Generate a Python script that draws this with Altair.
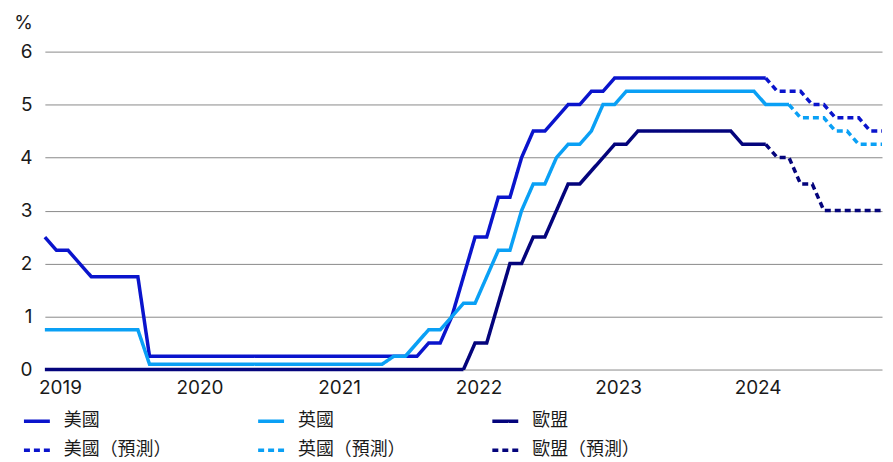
import altair as alt
import pandas as pd

# month index 0 = Jun 2019 ... 72 = Jun 2025
US_M = [0, 1, 2, 4, 8, 9, 32, 33, 34, 35, 36, 37, 38, 39, 40, 41, 42, 43, 44, 45, 46, 47, 48, 49, 62]
US_V = [2.5, 2.25, 2.25, 1.75, 1.75, 0.25, 0.25, 0.5, 0.5, 1.0, 1.75, 2.5, 2.5, 3.25, 3.25, 4.0, 4.5, 4.5, 4.75, 5.0, 5.0, 5.25, 5.25, 5.5, 5.5]
US_FM = [62, 63, 65, 66, 67, 68, 70, 71, 72]
US_FV = [5.5, 5.25, 5.25, 5.0, 5.0, 4.75, 4.75, 4.5, 4.5]

UK_M = [0, 8, 9, 29, 30, 31, 32, 33, 34, 35, 36, 37, 38, 39, 40, 41, 42, 43, 44, 45, 46, 47, 48, 49, 50, 61, 62, 64]
UK_V = [0.75, 0.75, 0.1, 0.1, 0.25, 0.25, 0.5, 0.75, 0.75, 1.0, 1.25, 1.25, 1.75, 2.25, 2.25, 3.0, 3.5, 3.5, 4.0, 4.25, 4.25, 4.5, 5.0, 5.0, 5.25, 5.25, 5.0, 5.0]
UK_FM = [64, 65, 67, 68, 69, 70, 72]
UK_FV = [5.0, 4.75, 4.75, 4.5, 4.5, 4.25, 4.25]

EU_M = [0, 36, 37, 38, 39, 40, 41, 42, 43, 44, 45, 46, 47, 48, 49, 50, 51, 59, 60, 62]
EU_V = [0, 0, 0.5, 0.5, 1.25, 2.0, 2.0, 2.5, 2.5, 3.0, 3.5, 3.5, 3.75, 4.0, 4.25, 4.25, 4.5, 4.5, 4.25, 4.25]
EU_FM = [62, 63, 64, 65, 66, 67, 72]
EU_FV = [4.25, 4.0, 4.0, 3.5, 3.5, 3.0, 3.0]

LABELS = ["美國", "英國", "歐盟", "美國（預測）", "英國（預測）", "歐盟（預測）"]
COLORS = ["#0a14cc", "#0aa0f5", "#04047c", "#0a14cc", "#0aa0f5", "#04047c"]
DASHES = [[1, 0], [1, 0], [1, 0], [6, 4], [6, 4], [6, 4]]
YEAR_TICKS = [1.3, 13.3, 25.3, 37.3, 49.3, 61.3]

series = [
    (LABELS[0], US_M, US_V), (LABELS[1], UK_M, UK_V), (LABELS[2], EU_M, EU_V),
    (LABELS[3], US_FM, US_FV), (LABELS[4], UK_FM, UK_FV), (LABELS[5], EU_FM, EU_FV),
]
rows = []
for lab, ms, vs in series:
    for m, v in zip(ms, vs):
        rows.append({"m": m, "v": v, "s": lab})
df = pd.DataFrame(rows)

legend = alt.Legend(
    title=None, orient="none", legendX=-23, legendY=356, columns=3,
    direction="horizontal", symbolType="stroke", symbolSize=676,
    symbolStrokeWidth=3.5, labelFont="Noto Sans CJK TC", labelFontSize=18,
    labelColor="#1a1a1a", labelOffset=12, columnPadding=80, rowPadding=5,
)

chart = alt.Chart(df).mark_line(strokeWidth=3.5).encode(
    x=alt.X("m:Q", scale=alt.Scale(domain=[0, 72], nice=False, zero=False),
            axis=alt.Axis(values=YEAR_TICKS, labelExpr="'' + (2019 + floor(datum.value / 12))",
                          title=None, grid=False, domain=False, ticks=False,
                          labelPadding=9, labelFont="Inter", labelFontSize=19,
                          labelColor="#1a1a1a")),
    y=alt.Y("v:Q", scale=alt.Scale(domain=[0, 6], nice=False),
            axis=alt.Axis(values=[0, 1, 2, 3, 4, 5, 6], title="%", titleAngle=0,
                          titleX=-22, titleY=-29, titleAlign="center", titleBaseline="middle",
                          titleFont="Inter", titleFontSize=19, titleFontWeight="normal",
                          titleColor="#1a1a1a",
                          grid=True, gridColor="#8a8a8a", gridWidth=1,
                          domain=False, ticks=False, labelPadding=13,
                          labelFont="Inter", labelFontSize=19, labelColor="#1a1a1a")),
    color=alt.Color("s:N", scale=alt.Scale(domain=LABELS, range=COLORS), legend=legend),
    strokeDash=alt.StrokeDash("s:N", scale=alt.Scale(domain=LABELS, range=DASHES), legend=legend),
).properties(
    width=840, height=319,
    autosize=alt.AutoSizeParams(type="none"),
    padding={"left": 37, "top": 43, "right": 3, "bottom": 91},
).configure_view(stroke=None)

chart.save("out.html", embed_options={"renderer": "svg", "actions": False})
